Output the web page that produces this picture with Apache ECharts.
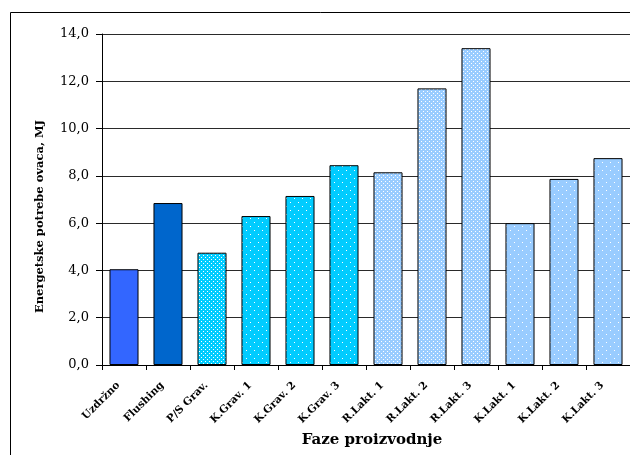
<!DOCTYPE html>
<html>
<head>
<meta charset="utf-8">
<script src="https://cdn.jsdelivr.net/npm/echarts@6/dist/echarts.min.js"></script>
<style>
  html, body { margin: 0; padding: 0; background: #fff; }
  #chart { width: 630px; height: 455px; }
</style>
</head>
<body>
<div id="chart"></div>
<script>
// Production phases and the sheep energy requirement per phase (MJ)
const categories = ['Uzdržno', 'Flushing', 'P/S Grav.', 'K.Grav. 1', 'K.Grav. 2', 'K.Grav. 3',
                    'R.Lakt. 1', 'R.Lakt. 2', 'R.Lakt. 3', 'K.Lakt. 1', 'K.Lakt. 2', 'K.Lakt. 3'];
const energyMJ = [4.05, 6.85, 4.75, 6.3, 7.15, 8.45, 8.15, 11.7, 13.4, 6.0, 7.87, 8.75];
// Fill style group of each phase
const fillGroup = ['solidA', 'solidB', 'gravDense', 'grav', 'grav', 'grav',
                   'laktDense', 'laktDense', 'laktDense', 'lakt', 'lakt', 'lakt'];
const yTicks = { min: 0, max: 14, step: 2 };

function dotPattern(bg, tile, dots) {
  const c = document.createElement('canvas');
  c.width = tile; c.height = tile;
  const g = c.getContext('2d');
  g.fillStyle = bg;
  g.fillRect(0, 0, tile, tile);
  g.fillStyle = '#ffffff';
  dots.forEach(([x, y]) => g.fillRect(x, y, 1, 1));
  return { image: c, repeat: 'repeat' };
}

const fills = {
  solidA: '#3366ff',
  solidB: '#0066cc',
  gravDense: dotPattern('#00ccff', 4, [[1, 1], [3, 3]]),
  grav: dotPattern('#00ccff', 8, [[2, 2], [6, 6]]),
  laktDense: dotPattern('#99ccff', 4, [[1, 1], [3, 3]]),
  lakt: dotPattern('#99ccff', 8, [[2, 2], [6, 6]])
};

const serif = '"DejaVu Serif", "Liberation Serif", serif';

const chart = echarts.init(document.getElementById('chart'), null, { renderer: 'canvas' });
chart.setOption({
  animation: false,
  backgroundColor: '#ffffff',
  graphic: [{
    type: 'rect',
    shape: { x: 10.5, y: 12.5, width: 640, height: 460 },
    style: { fill: 'none', stroke: '#000', lineWidth: 1 },
    silent: true
  }],
  grid: { left: 102, top: 34, right: -2, bottom: 90, containLabel: false },
  xAxis: {
    type: 'category',
    data: categories,
    name: 'Faze proizvodnje',
    nameLocation: 'middle',
    nameGap: 67,
    nameTextStyle: { fontFamily: serif, fontWeight: 'bold', fontSize: 15, color: '#000', padding: [0, 0, 0, 12] },
    axisLine: { lineStyle: { color: '#000', width: 1 } },
    axisTick: { show: true, length: 5, lineStyle: { color: '#000' }, alignWithLabel: false },
    axisLabel: {
      rotate: 45, interval: 0, fontFamily: serif, fontWeight: 'bold', fontSize: 10.5, color: '#000',
      margin: 13, padding: [0, 8, 0, 0]
    },
    splitLine: { show: false }
  },
  yAxis: {
    type: 'value',
    min: yTicks.min,
    max: yTicks.max,
    interval: yTicks.step,
    name: 'Energetske potrebe ovaca, MJ',
    nameLocation: 'middle',
    nameGap: 56,
    nameTextStyle: { fontFamily: serif, fontWeight: 'bold', fontSize: 11.5, color: '#000', padding: [0, 34, 0, 0] },
    axisLine: { show: true, lineStyle: { color: '#000', width: 1 } },
    axisTick: { show: true, inside: false, length: 6, lineStyle: { color: '#000' } },
    axisLabel: {
      fontFamily: serif, fontSize: 13, color: '#000', margin: 13,
      formatter: v => v.toFixed(1).replace('.', ',')
    },
    splitLine: { show: true, lineStyle: { color: '#2a2a2a', width: 1 } }
  },
  series: [{
    type: 'bar',
    barCategoryGap: '34%',
    data: energyMJ.map((v, i) => ({
      value: v,
      itemStyle: { color: fills[fillGroup[i]] }
    })),
    itemStyle: { borderColor: '#000', borderWidth: 1 }
  }]
});
</script>
</body>
</html>
